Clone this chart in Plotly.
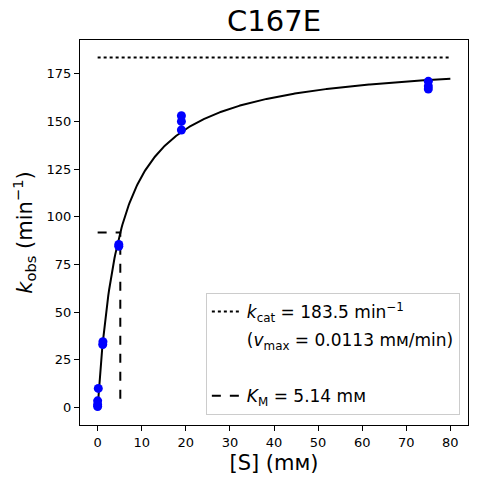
import numpy as np
import plotly.graph_objects as go

# Data
substrate_mM = [0, 0, 0, 0.15, 1.15, 1.2, 4.8, 4.8, 19, 19, 19, 75, 75, 75]
k_obs = [0.5, 1.5, 3.5, 10, 33, 34.5, 84.5, 85.5, 145.5, 150, 153, 167, 168.5, 171]

kcat = 183.5      # min^-1
vmax = 0.0113     # mM/min
KM = 5.14         # mM
x_max = 80
title = "C167E"

FONT = "DejaVu Sans"
W, H = 477, 484
L, R, T, B = 80, 9, 40, 59

fig = go.Figure()

# fitted Michaelis-Menten curve
xs = np.linspace(0, x_max, 400)
fig.add_trace(go.Scatter(x=xs, y=kcat * xs / (KM + xs), mode="lines",
                         line=dict(color="black", width=2), showlegend=False))

# kcat line
fig.add_trace(go.Scatter(x=[0, x_max], y=[kcat, kcat], mode="lines",
                         line=dict(color="black", width=2, dash="dot"),
                         name="<i>k</i><sub>cat</sub> = %.1f min<sup>−1</sup>" % kcat,
                         legendgroup="a"))
fig.add_trace(go.Scatter(x=[None], y=[None], mode="lines",
                         line=dict(color="rgba(0,0,0,0)", width=0),
                         name="(<i>v</i><sub>max</sub> = %.4f mᴍ/min)" % vmax,
                         legendgroup="b"))
fig.add_trace(go.Scatter(x=[None], y=[None], mode="lines",
                         line=dict(color="rgba(0,0,0,0)", width=0),
                         name=" ", legendgroup="c"))

# KM lines
fig.add_trace(go.Scatter(x=[0, KM, KM], y=[kcat / 2, kcat / 2, 0], mode="lines",
                         line=dict(color="black", width=2, dash="dash"),
                         name="<i>K</i><sub>M</sub> = %.2f mᴍ" % KM,
                         legendgroup="d"))

# data points
fig.add_trace(go.Scatter(x=substrate_mM, y=k_obs, mode="markers",
                         marker=dict(color="blue", size=9), showlegend=False))

axis_common = dict(showline=True, linecolor="black", linewidth=1, mirror=True,
                   ticks="outside", ticklen=5, tickcolor="black", showgrid=False,
                   zeroline=False, automargin=False,
                   tickfont=dict(family=FONT, size=13, color="black"))

fig.update_xaxes(range=[-4, 84], dtick=10, tick0=0,
                 title=dict(text="[S] (mᴍ)", font=dict(family=FONT, size=21, color="black"),
                            standoff=6), **axis_common)
fig.update_yaxes(range=[-9.175, 192.675], dtick=25, tick0=0,
                 title=dict(text="<i>k</i><sub>obs</sub> (min<sup>−1</sup>)",
                            font=dict(family=FONT, size=21, color="black"), standoff=8),
                 **axis_common)

fig.update_layout(
    width=W, height=H,
    margin=dict(l=L, r=R, t=T, b=B, autoexpand=False),
    paper_bgcolor="white", plot_bgcolor="white",
    title=dict(text=title, x=(L + W - R) / 2 / W, xanchor="center",
               y=1 - 21 / H, yanchor="middle", automargin=False,
               font=dict(family=FONT, size=29, color="black")),
    legend=dict(x=0.979, y=0.026, xanchor="right", yanchor="bottom",
                bgcolor="rgba(255,255,255,0.8)", bordercolor="#cccccc", borderwidth=1,
                font=dict(family=FONT, size=17, color="black"),
                traceorder="grouped", tracegroupgap=3),
)

fig.write_html("out.html", config={"displayModeBar": False},
               post_script="document.body.style.margin='0';")
